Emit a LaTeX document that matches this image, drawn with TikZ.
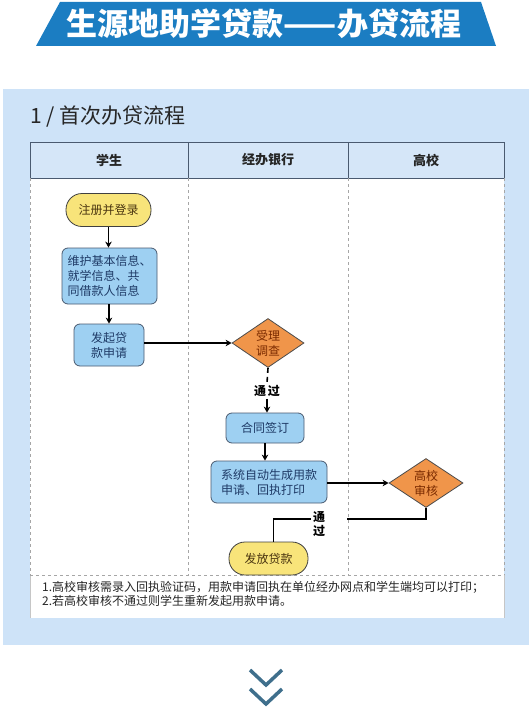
\documentclass[tikz,border=0pt]{standalone}
\usepackage{fontspec}
\setmainfont{Noto Sans CJK SC}
\usetikzlibrary{shapes.geometric,arrows.meta}
\definecolor{banner}{HTML}{1B7DC2}
\definecolor{panel}{HTML}{CEE3F8}
\definecolor{hdr}{HTML}{D5E6F8}
\definecolor{yel}{HTML}{F8E47A}
\definecolor{blu}{HTML}{9ED0F2}
\definecolor{org}{HTML}{F0954A}
\definecolor{hdrline}{HTML}{4A5A70}
\definecolor{chev}{HTML}{3F6F8C}
\definecolor{bluetext}{HTML}{1E3A66}
\definecolor{yeltext}{HTML}{4A3510}
\definecolor{orgtext}{HTML}{7A2A00}
\tikzset{
  f12/.style={font=\fontsize{12}{15}\selectfont},
  yelbox/.style={f12, rounded corners=16pt, fill=yel, draw=black!75, line width=0.8pt, text=yeltext, inner sep=0pt},
  blubox/.style={f12, rounded corners=6pt, fill=blu, draw=hdrline, line width=0.8pt, text=bluetext, inner sep=0pt},
  dia/.style={f12, diamond, aspect=1.5, fill=org, draw=black!70, line width=0.8pt, text=orgtext, inner sep=0pt, align=center},
  arr/.style={line width=1.6pt, -{Stealth[length=6pt,width=6.5pt]}},
  conn/.style={line width=1.6pt},
  lane/.style={dashed, gray!70, line width=0.6pt},
  lbl/.style={f12, font=\fontsize{12}{15}\selectfont\bfseries, inner sep=2pt},
  hdrtext/.style={font=\fontsize{13}{15}\selectfont\bfseries, text=black!85},
}
\begin{document}
\begin{tikzpicture}[x=1pt,y=-1pt]
\useasboundingbox (0,0) rectangle (532,717);
% banner
\fill[banner] (60,2) -- (481,2) -- (496,46) -- (36,46) -- cycle;
\node[text=white, font=\fontsize{31}{33}\selectfont\bfseries] (title) at (264,24) {生源地助学贷款——办贷流程};
% panel
\fill[panel] (3,89) rectangle (529,645);
\node[anchor=west, font=\fontsize{21}{23}\selectfont, text=black!85, inner sep=0pt] (sub) at (30,117) {1 / 首次办贷流程};
% table body
\fill[white] (30,178) rectangle (504,618);
\draw[gray!45, line width=0.6pt] (30,575) -- (30,618) (504,575) -- (504,618);
% header
\draw[hdrline, fill=hdr, line width=0.8pt] (30,142) rectangle (504,178);
\draw[hdrline, line width=0.8pt] (188,142) -- (188,178) (348,142) -- (348,178);
\node[hdrtext] (h1) at (109,160) {学生};
\node[hdrtext] (h2) at (268,160) {经办银行};
\node[hdrtext] (h3) at (426,160) {高校};
% lanes
\draw[lane] (30,178) -- (30,575);
\draw[lane] (188,178) -- (188,575);
\draw[lane] (348,178) -- (348,575);
\draw[lane] (504,178) -- (504,575);
\draw[lane] (30,575) -- (504,575);
% nodes
\node[yelbox, minimum width=85pt, minimum height=33pt] (reg) at (108.5,210) {注册并登录};
\node[blubox, minimum width=95pt, minimum height=56pt, align=left] (info) at (109.5,276) {维护基本信息、\\就学信息、共\\同借款人信息};
\node[blubox, minimum width=70pt, minimum height=42pt, align=center] (apply) at (109,345) {发起贷\\款申请};
\node[dia, minimum width=72pt, minimum height=49pt] (check) at (268,343) {受理\\调查};
\node[lbl] (pass1) at (267,391) {通\,过};
\node[blubox, minimum width=78pt, minimum height=30pt] (sign) at (265,428) {合同签订};
\node[blubox, minimum width=116pt, minimum height=42pt, align=left] (gen) at (269,482) {系统自动生成用款\\申请、回执打印};
\node[dia, minimum width=74pt, minimum height=49pt] (school) at (426,483) {高校\\审核};
\node[lbl, align=center, font=\fontsize{12}{14}\selectfont\bfseries] (pass2) at (319,524) {通\\过};
\node[yelbox, minimum width=79pt, minimum height=33pt] (loan) at (268.5,558.5) {发放贷款};
\coordinate (g2) at (347,519);
% connectors
\draw[arr] (reg.south) -- (reg.south |- info.north);
\draw[arr] (info.south -| apply.north) -- (apply.north);
\draw[arr] (apply.east |- check.west) -- (check.west);
\draw[conn, dashed, dash pattern=on 5pt off 4pt] (check.south) -- (pass1.north);
\draw[arr] (pass1.south) -- (pass1.south |- sign.north);
\draw[arr] (sign.south) -- (sign.south |- gen.north);
\draw[line width=1.3pt, -{Stealth[length=6pt,width=6.5pt]}] (gen.east |- school.west) -- (school.west);
\draw[conn] (school.south) |- (g2);
\draw[conn] (pass2.west |- g2) -| ([xshift=5pt]loan.north);
% notes
\node[anchor=west, f12, text=black!85, inner sep=0pt] (n1) at (42,587) {1.高校审核需录入回执验证码，用款申请回执在单位经办网点和学生端均可以打印；};
\node[anchor=west, f12, text=black!85, inner sep=0pt] (n2) at (42,601) {2.若高校审核不通过则学生重新发起用款申请。};
% chevrons
\draw[chev, line width=3.5pt] (250,670) -- (266,685) -- (282,670);
\draw[chev, line width=3.5pt] (250,689) -- (266,704) -- (282,689);
\end{tikzpicture}
\end{document}
